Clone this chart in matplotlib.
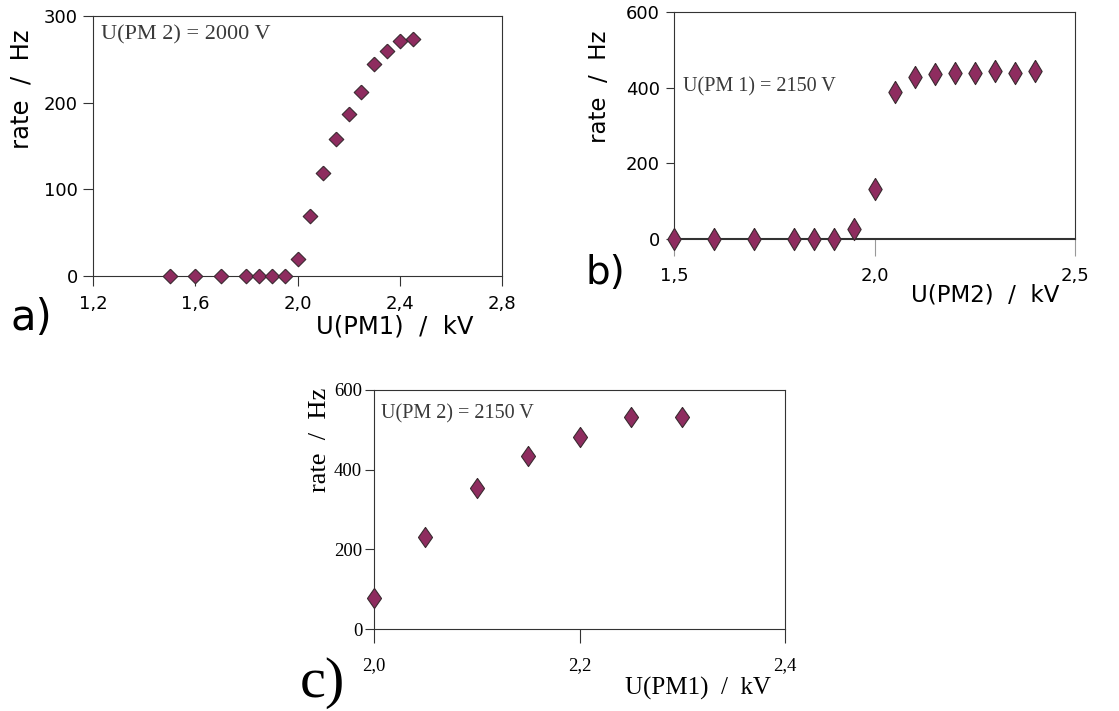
import numpy as np
import matplotlib
matplotlib.use("Agg")
import matplotlib.pyplot as plt

# panel a: U(PM2) fixed at 2000 V
a_u = [1.50, 1.60, 1.70, 1.80, 1.85, 1.90, 1.95, 2.00, 2.05, 2.10, 2.15, 2.20, 2.25, 2.30, 2.35, 2.40, 2.45]
a_rate = [0, 0, 0, 0, 0, 0, 0, 20, 69, 119, 158, 187, 212, 245, 260, 271, 273]
a_xticks = [1.2, 1.6, 2.0, 2.4, 2.8]
a_xlabels = ["1,2", "1,6", "2,0", "2,4", "2,8"]
a_yticks = [0, 100, 200, 300]

# panel b: U(PM1) fixed at 2150 V
b_u = [1.50, 1.60, 1.70, 1.80, 1.85, 1.90, 1.95, 2.00, 2.05, 2.10, 2.15, 2.20, 2.25, 2.30, 2.35, 2.40]
b_rate = [0, 0, 0, 0, 0, 0, 26, 131, 388, 429, 436, 440, 440, 443, 440, 445]
b_xticks = [1.5, 2.0, 2.5]
b_xlabels = ["1,5", "2,0", "2,5"]
b_yticks = [0, 200, 400, 600]

# panel c: U(PM2) fixed at 2150 V
c_u = [2.00, 2.05, 2.10, 2.15, 2.20, 2.25, 2.30]
c_rate = [77, 230, 353, 435, 481, 533, 533]
c_xticks = [2.0, 2.2, 2.4]
c_xlabels = ["2,0", "2,2", "2,4"]
c_yticks = [0, 200, 400, 600]

W, H = 1119, 711
fill = "#8e2c5f"
edge = "#3a2a30"
frame = "#333333"
serif = ["Liberation Serif", "DejaVu Serif"]
sans = ["DejaVu Sans"]


def fx(x):
    return x / W


def fy(y):
    return 1 - y / H


def diamond(w):
    return [(0, 1), (w, 0), (0, -1), (-w, 0), (0, 1)]


def style(ax, lw=0.8):
    for s in ax.spines.values():
        s.set_color(frame)
        s.set_linewidth(lw)


fig = plt.figure(figsize=(W / 100, H / 100), dpi=100)

# ---- a)
ax = fig.add_axes([fx(93), fy(276), fx(409), 260 / H])
ax.plot(a_u, a_rate, linestyle="none", marker=diamond(1.0), markersize=10.5,
        markerfacecolor=fill, markeredgecolor=edge, markeredgewidth=0.8,
        clip_on=False, zorder=3)
ax.set_xlim(1.2, 2.8)
ax.set_ylim(0, 300)
ax.set_xticks(a_xticks)
ax.set_xticklabels(a_xlabels)
ax.set_yticks(a_yticks)
ax.tick_params(axis="x", length=7, width=0.8, pad=6.5, labelsize=13, color=frame)
ax.tick_params(axis="y", length=7, width=0.8, pad=4, labelsize=13, color=frame)
style(ax)
ax.text(1.233, 278, "U(PM 2) = 2000 V", family=serif, fontsize=16, color="#3a3a3a",
        ha="left", va="center")
fig.text(fx(22), fy(89), "rate  /  Hz", rotation=90, ha="center", va="center",
         fontsize=17.5, family=sans)
fig.text(fx(395), fy(327), "U(PM1)  /  kV", ha="center", va="center",
         fontsize=17.5, family=sans)
fig.text(fx(31), fy(318), "a)", ha="center", va="center", fontsize=30, family=sans)

# ---- b)
ax = fig.add_axes([fx(674), fy(239), fx(401), 227 / H])
ax.plot(b_u, b_rate, linestyle="none", marker=diamond(0.6), markersize=16,
        markerfacecolor=fill, markeredgecolor=edge, markeredgewidth=0.8,
        clip_on=False, zorder=3)
ax.set_xlim(1.5, 2.5)
ax.set_ylim(0, 600)
ax.set_xticks(b_xticks)
ax.set_xticklabels(b_xlabels)
ax.set_yticks(b_yticks)
ax.tick_params(axis="x", length=12, width=0.8, pad=8, labelsize=13, color="#999999")
ax.tick_params(axis="y", length=6, width=0.8, pad=4, labelsize=13, color=frame)
style(ax)
ax.spines["bottom"].set_linewidth(1.5)
ax.text(1.522, 401, "U(PM 1) = 2150 V", family=serif, fontsize=14.5, color="#3a3a3a",
        ha="left", va="center")
fig.text(fx(600), fy(87), "rate  /  Hz", rotation=90, ha="center", va="center",
         fontsize=16.5, family=sans)
fig.text(fx(985), fy(295), "U(PM2)  /  kV", ha="center", va="center",
         fontsize=16.5, family=sans)
fig.text(fx(605), fy(273), "b)", ha="center", va="center", fontsize=28, family=sans)

# ---- c)
ax = fig.add_axes([fx(374), fy(629), fx(411), 239 / H])
ax.plot(c_u, c_rate, linestyle="none", marker=diamond(0.7), markersize=14.5,
        markerfacecolor=fill, markeredgecolor=edge, markeredgewidth=0.8,
        clip_on=False, zorder=3)
ax.set_xlim(2.0, 2.4)
ax.set_ylim(0, 600)
ax.set_xticks(c_xticks)
ax.set_xticklabels(c_xlabels, family=serif)
ax.set_yticks(c_yticks)
ax.set_yticklabels([str(v) for v in c_yticks], family=serif)
ax.tick_params(axis="x", length=10, width=0.8, pad=10, labelsize=13.5, color=frame)
ax.tick_params(axis="y", length=6.5, width=0.8, pad=2, labelsize=13.5, color=frame)
style(ax)
ax.text(2.0065, 541, "U(PM 2) = 2150 V", family=serif, fontsize=14.5, color="#3a3a3a",
        ha="left", va="center")
fig.text(fx(320), fy(440), "rate  /  Hz", rotation=90, ha="center", va="center",
         fontsize=19, family=serif)
fig.text(fx(698), fy(688), "U(PM1)  /  kV", ha="center", va="center",
         fontsize=18, family=serif)
fig.text(fx(322), fy(683), "c)", ha="center", va="center", fontsize=42, family=serif)

fig.savefig("out.png", dpi=100)
